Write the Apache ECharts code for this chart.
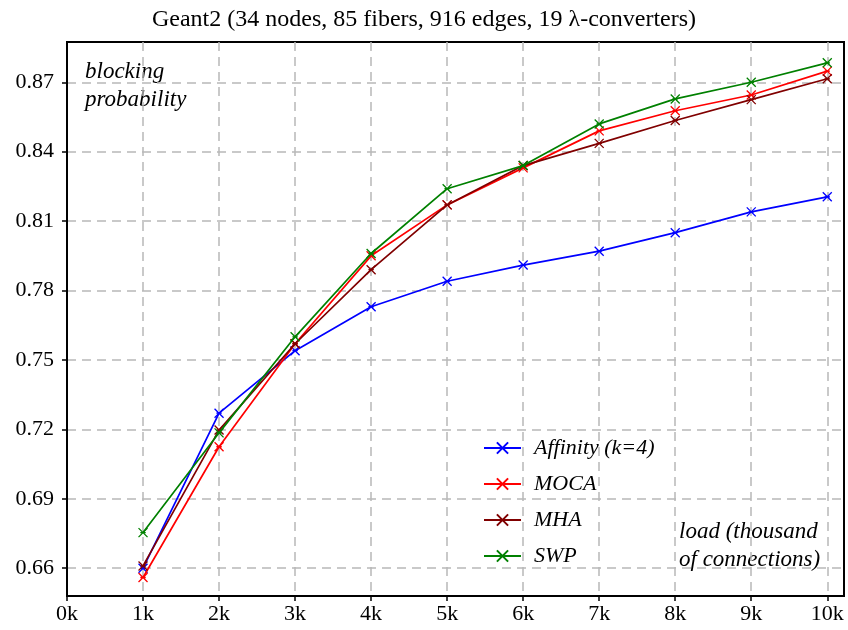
<!DOCTYPE html>
<html><head><meta charset="utf-8">
<script src="https://cdn.jsdelivr.net/npm/echarts@6/dist/echarts.min.js"></script>
<style>html,body{margin:0;padding:0;background:#fff}#c{width:848px;height:630px}</style>
</head><body><div id="c"></div>
<script>
const titleText = 'Geant2 (34 nodes, 85 fibers, 916 edges, 19 \u03bb-converters)';
const loads = [1, 2, 3, 4, 5, 6, 7, 8, 9, 10];
const xTicks = [0, 1, 2, 3, 4, 5, 6, 7, 8, 9, 10];
const yTicks = [0.66, 0.69, 0.72, 0.75, 0.78, 0.81, 0.84, 0.87];
const seriesNames = ['Affinity (k=4)', 'MOCA', 'MHA', 'SWP'];
const affinity = [0.660, 0.727, 0.754, 0.773, 0.784, 0.791, 0.797, 0.805, 0.814, 0.8205];
const moca     = [0.656, 0.7125, 0.757, 0.795, 0.817, 0.833, 0.849, 0.8577, 0.8645, 0.8748];
const mha      = [0.661, 0.7197, 0.757, 0.789, 0.817, 0.834, 0.8436, 0.8535, 0.8625, 0.8715];
const swp      = [0.6754, 0.7185, 0.760, 0.796, 0.824, 0.834, 0.852, 0.8628, 0.870, 0.8784];
const colors = ['#0000ff', '#ff0000', '#800000', '#008000'];
const allData = [affinity, moca, mha, swp];

const crossPath = 'path://M0,0L10,10M10,0L0,10M2,5L8,5';
const serif = 'Liberation Serif';

const chart = echarts.init(document.getElementById('c'), null, {renderer: 'canvas'});
chart.setOption({
  animation: false,
  backgroundColor: '#fff',
  title: {
    text: titleText, left: 'center', top: 3,
    textStyle: {fontFamily: serif, fontSize: 24, fontWeight: 'normal', color: '#000'}
  },
  grid: {left: 67, top: 42, right: 4, bottom: 34, show: true, borderColor: '#000', borderWidth: 2, containLabel: false},
  xAxis: {
    type: 'value', min: 0, max: 10.22,
    axisLine: {lineStyle: {color: '#000', width: 2}},
    axisTick: {customValues: xTicks, length: 5, lineStyle: {color: '#000', width: 1.5}},
    axisLabel: {customValues: xTicks, formatter: v => v + 'k', fontFamily: serif, fontSize: 22, color: '#000', margin: 7},
    splitLine: {show: true, lineStyle: {color: '#b8b8b8', type: [9, 6], width: 1.5}}
  },
  yAxis: {
    type: 'value', min: 0.648, max: 0.8874,
    axisLine: {show: true, lineStyle: {color: '#000', width: 2}},
    axisTick: {show: true, customValues: yTicks, length: 5, lineStyle: {color: '#000', width: 1.5}},
    axisLabel: {customValues: yTicks, formatter: v => v.toFixed(2), fontFamily: serif, fontSize: 22, color: '#000', margin: 13},
    splitLine: {show: true, lineStyle: {color: '#b8b8b8', type: [9, 6], width: 1.5}}
  },
  legend: {
    orient: 'vertical', left: 483, top: 437, padding: 0, itemGap: 14, itemWidth: 37, itemHeight: 14,
    data: seriesNames,
    textStyle: {fontFamily: serif, fontStyle: 'italic', fontSize: 22, color: '#000', padding: [0, 0, 0, 8]}
  },
  graphic: [
    {type: 'text', left: 85, top: 58, style: {text: 'blocking\nprobability', font: 'italic 23px "Liberation Serif"', fill: '#000', lineHeight: 28}},
    {type: 'text', left: 679, top: 518, style: {text: 'load (thousand\nof connections)', font: 'italic 23px "Liberation Serif"', fill: '#000', lineHeight: 28}}
  ],
  series: seriesNames.map((n, i) => ({
    name: n, type: 'line',
    data: loads.map((x, j) => [x, allData[i][j]]),
    symbol: crossPath, symbolSize: 9,
    lineStyle: {color: colors[i], width: 1.7},
    itemStyle: {color: colors[i], borderColor: colors[i], borderWidth: 1.3},
    z: 2 + i
  }))
});
</script></body></html>
